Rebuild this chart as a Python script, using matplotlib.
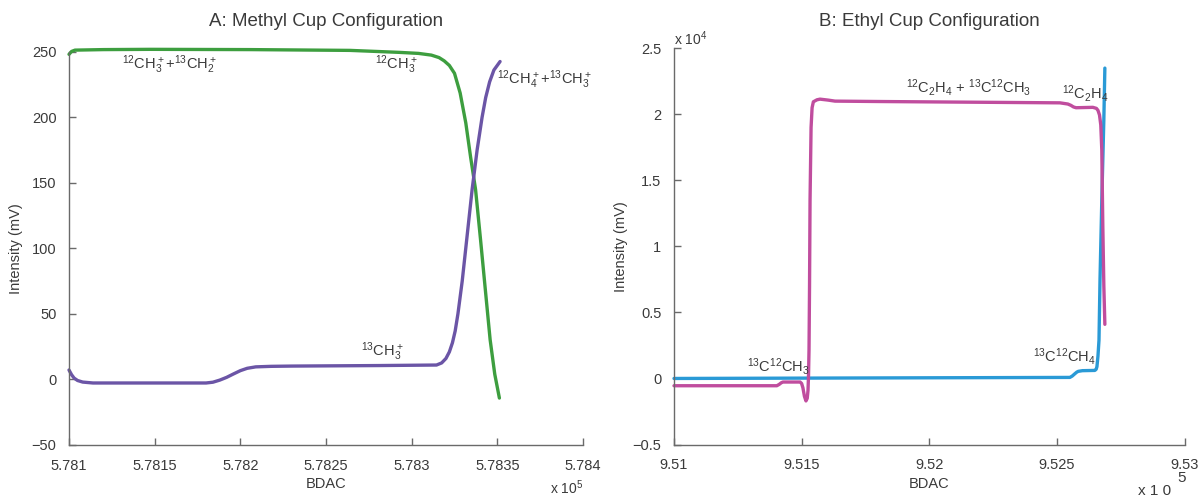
import matplotlib
matplotlib.use("Agg")
import matplotlib.pyplot as plt
from matplotlib.ticker import FixedLocator

plt.rcParams['font.family'] = ['Liberation Sans', 'DejaVu Sans']
plt.rcParams['mathtext.default'] = 'regular'

TEXT = '#3a3a3a'
SPINE = '#6a6a6a'

# ---- Panel A: methyl cup configuration (intensity in mV) ----
methyl_bdac_12 = [578100.0, 578101.5, 578103.5, 578120.0, 578147.5, 578206.0, 578264.0,
                  578292.6, 578304.0, 578311.5, 578316.0, 578319.0, 578322.0, 578325.0,
                  578328.3, 578331.6, 578334.4, 578337.3, 578340.2, 578343.0, 578345.8,
                  578348.5, 578351.2]
methyl_int_12 = [248.0, 250.2, 251.2, 251.6, 251.8, 251.6, 251.0,
                 249.5, 248.7, 247.4, 245.5, 243.0, 239.5, 233.5,
                 218.5, 195.6, 169.6, 144.8, 106.6, 68.4, 30.3,
                 4.0, -14.2]

methyl_bdac_13 = [578100.0, 578101.5, 578103.0, 578105.0, 578108.0, 578114.0, 578147.0,
                  578180.0, 578184.0, 578188.0, 578192.0, 578196.0, 578200.0, 578204.0,
                  578209.0, 578218.0, 578230.0, 578281.0, 578314.5, 578317.5, 578320.0,
                  578322.0, 578323.8, 578325.4, 578327.0, 578329.5, 578332.4, 578335.3,
                  578338.2, 578341.1, 578343.2, 578345.5, 578348.0, 578351.6]
methyl_int_13 = [7.2, 3.6, 1.0, -0.8, -2.0, -2.7, -2.7,
                 -2.7, -2.1, -0.5, 1.6, 4.2, 6.7, 8.5,
                 9.6, 10.0, 10.2, 10.6, 11.0, 12.6, 16.0,
                 21.0, 28.0, 37.0, 50.0, 75.0, 110.0, 145.0,
                 175.0, 200.0, 215.0, 227.0, 236.0, 242.5]

methyl_xticks = [578100, 578150, 578200, 578250, 578300, 578350, 578400]
methyl_xlabels = ['5.781', '5.7815', '5.782', '5.7825', '5.783', '5.7835', '5.784']
methyl_yticks = [-50, 0, 50, 100, 150, 200, 250]
methyl_ylabels = ['\u221250', '0', '50', '100', '150', '200', '250']

# ---- Panel B: ethyl cup configuration ----
ethyl_bdac_12 = [951000, 951403, 951412, 951420, 951427, 951494, 951500, 951505, 951511,
                 951517, 951522, 951525, 951527, 951529, 951531, 951533, 951537, 951541,
                 951546, 951560, 951572, 951603, 951631, 951807, 952512, 952543, 952555,
                 952565, 952575, 952641, 952655, 952661, 952667, 952672, 952676, 952680,
                 952684, 952688]
ethyl_int_12 = [-550, -550, -450, -330, -270, -270, -380, -700, -1350,
                -1700, -1500, -900, 200, 2200, 7000, 13500, 19000, 20500,
                20950, 21100, 21150, 21080, 21000, 20970, 20870, 20780, 20680,
                20560, 20500, 20530, 20450, 20300, 19950, 19200, 17300, 11500,
                7000, 4100]

ethyl_bdac_13 = [951000, 952551, 952560, 952570, 952578, 952584, 952600, 952649,
                 952654, 952657, 952661, 952665, 952669, 952676, 952684, 952688]
ethyl_int_13 = [0, 80, 180, 350, 480, 540, 590, 610,
                700, 900, 1700, 2900, 7500, 13500, 19600, 23500]

ethyl_xticks = [951000, 951500, 952000, 952500, 953000]
ethyl_xlabels = ['9.51', '9.515', '9.52', '9.525', '9.53']
ethyl_yticks = [-5000, 0, 5000, 10000, 15000, 20000, 25000]
ethyl_ylabels = ['\u22120.5', '0', '0.5', '1', '1.5', '2', '2.5']

GREEN = '#3d9e3f'
PURPLE = '#6b55a6'
MAGENTA = '#c04d9e'
BLUE = '#2a9ad6'

W, H = 1199, 497
fig = plt.figure(figsize=(W / 100, H / 100), dpi=100)
axA = fig.add_axes([69 / W, (H - 445) / H, 514 / W, 393.3 / H])
axB = fig.add_axes([674 / W, (H - 444.5) / H, 510.5 / W, 396.2 / H])


def style_axes(ax, xticks, xlabels, yticks, ylabels):
    for side in ('top', 'right'):
        ax.spines[side].set_visible(False)
    for side in ('left', 'bottom'):
        ax.spines[side].set_color(SPINE)
        ax.spines[side].set_linewidth(1.0)
    ax.xaxis.set_major_locator(FixedLocator(xticks))
    ax.set_xticklabels(xlabels)
    ax.yaxis.set_major_locator(FixedLocator(yticks))
    ax.set_yticklabels(ylabels)
    ax.tick_params(direction='in', length=5, width=1, color=SPINE,
                   labelcolor=TEXT, labelsize=10.5)
    ax.tick_params(axis='y', pad=9)
    ax.tick_params(axis='x', pad=10)
    ax.set_xlabel('BDAC', fontsize=10.5, color=TEXT, labelpad=3)
    ax.set_ylabel('Intensity (mV)', fontsize=10.5, color=TEXT)
    ax.patch.set_alpha(0)


line_kw = dict(lw=2.4, solid_capstyle='round', solid_joinstyle='round', clip_on=False)

axA.plot(methyl_bdac_12, methyl_int_12, color=GREEN, **line_kw)
axA.plot(methyl_bdac_13, methyl_int_13, color=PURPLE, **line_kw)
axA.set_xlim(578100, 578400)
axA.set_ylim(-50, 250)
style_axes(axA, methyl_xticks, methyl_xlabels, methyl_yticks, methyl_ylabels)
axA.yaxis.set_label_coords(-0.09, 0.5)

ann = dict(fontsize=10.5, color=TEXT, va='center', ha='left', clip_on=False)
axA.text(578130.8, 240, '$^{12}$CH$_3^+$+$^{13}$CH$_2^+$', **ann)
axA.text(578278.4, 240, '$^{12}$CH$_3^+$', **ann)
axA.text(578349.6, 229, '$^{12}$CH$_4^+$+$^{13}$CH$_3^+$', **ann)
axA.text(578270.5, 21, '$^{13}$CH$_3^+$', **ann)
axA.text(1.0, -0.109, 'x 10$^5$', transform=axA.transAxes, fontsize=10,
         color=TEXT, ha='right', va='center')

axB.plot(ethyl_bdac_13, ethyl_int_13, color=BLUE, **line_kw)
axB.plot(ethyl_bdac_12, ethyl_int_12, color=MAGENTA, **line_kw)
axB.set_xlim(951000, 953000)
axB.set_ylim(-5000, 25000)
style_axes(axB, ethyl_xticks, ethyl_xlabels, ethyl_yticks, ethyl_ylabels)
axB.yaxis.set_label_coords(-0.09, 0.5)

axB.text(951909, 22000, '$^{12}$C$_2$H$_4$ + $^{13}$C$^{12}$CH$_3$', **ann)
axB.text(952520, 21600, '$^{12}$C$_2$H$_4$', **ann)
axB.text(951286, 900, '$^{13}$C$^{12}$CH$_3$', **ann)
axB.text(952406, 1700, '$^{13}$C$^{12}$CH$_4$', **ann)
axB.text(0.0, 1.025, 'x 10$^4$', transform=axB.transAxes, fontsize=10,
         color=TEXT, ha='left', va='center')
fig.text(1138 / W, (H - 491) / H, 'x 1 0', fontsize=11, color=TEXT,
         ha='left', va='center')
fig.text(1182 / W, (H - 478) / H, '5', fontsize=11, color=TEXT,
         ha='center', va='center')

# Panel titles
fig.text(326 / W, 1 - 22 / H, 'A: Methyl Cup Configuration', fontsize=13.5,
         color=TEXT, ha='center', va='center')
fig.text(929 / W, 1 - 22 / H, 'B: Ethyl Cup Configuration', fontsize=13.5,
         color=TEXT, ha='center', va='center')

fig.savefig('out.png', dpi=100)
